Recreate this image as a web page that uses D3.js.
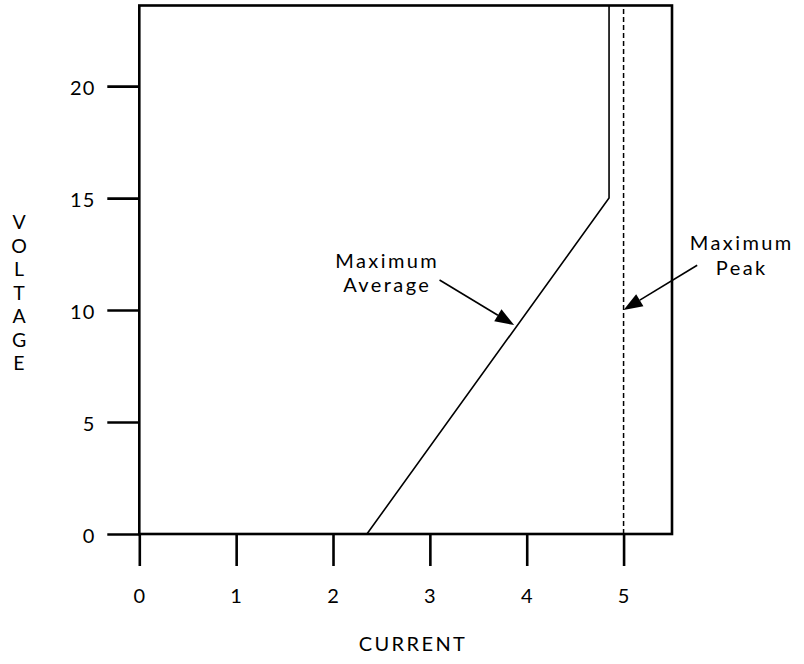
<!DOCTYPE html>
<html><head><meta charset="utf-8">
<script src="https://cdn.jsdelivr.net/npm/d3@7"></script>
<style>body{margin:0;background:#fff}svg{display:block}text{font-family:Lato,sans-serif;fill:#000}</style>
</head><body><svg id="c" width="804" height="664"></svg>
<script>
const xTicks=[0,1,2,3,4,5];
const yTicks=[0,5,10,15,20];
const xDomain=[0,5.5];
const yDomain=[0,23.6];
const avgCurrent=[2.35,4.85,4.85];
const avgVoltage=[0,15,23.6];
const peakCurrent=[5,5];
const peakVoltage=[0,23.6];
const xTitle="CURRENT";
const yTitle="VOLTAGE";
const notes=[
 {lines:["Maximum","Average"],tx:2.56,ty:11.88,from:[3.1,11.34],to:[3.87,9.33]},
 {lines:["Maximum","Peak"],tx:6.22,ty:12.68,from:[5.76,12.0],to:[5.0,10.0]}
];
const svg=d3.select("#c");
const x=d3.scaleLinear().domain(xDomain).range([139.3,672]);
const y=d3.scaleLinear().domain(yDomain).range([534,5.5]);
const fs=20;
svg.append("rect").attr("x",x(0)).attr("y",y(yDomain[1])).attr("width",x(xDomain[1])-x(0)).attr("height",y(0)-y(yDomain[1]))
 .attr("fill","none").attr("stroke","#000").attr("stroke-width",2.6);
const gx=svg.append("g").attr("transform",`translate(0,${y(0)})`)
 .call(d3.axisBottom(x).tickValues(xTicks).tickSize(32).tickPadding(23).tickFormat(d3.format("d")));
const gy=svg.append("g").attr("transform",`translate(${x(0)},0)`)
 .call(d3.axisLeft(y).tickValues(yTicks).tickSize(32).tickPadding(12).tickFormat(d3.format("d")));
[gx,gy].forEach(g=>{g.select(".domain").remove();g.selectAll("line").attr("stroke","#000").attr("stroke-width",2.6);
 g.selectAll("text").attr("font-size",fs).attr("font-family","Lato,sans-serif").attr("fill","#000").attr("letter-spacing",1);});
gy.selectAll("text").attr("dy","0.4em");
const line=d3.line().x(d=>x(d[0])).y(d=>y(d[1]));
svg.append("path").attr("d",line(d3.zip(avgCurrent,avgVoltage))).attr("fill","none").attr("stroke","#000").attr("stroke-width",1.6);
svg.append("path").attr("d",line(d3.zip(peakCurrent,peakVoltage))).attr("fill","none").attr("stroke","#000").attr("stroke-width",1.5).attr("stroke-dasharray","5,3");
svg.append("text").attr("x",413).attr("y",651).attr("text-anchor","middle").attr("font-size",fs).attr("letter-spacing",2.4).text(xTitle);
svg.append("g").selectAll("text").data(yTitle.split("")).join("text")
 .attr("x",19).attr("y",(d,i)=>229+i*23.5).attr("text-anchor","middle").attr("font-size",19.5).text(d=>d);
notes.forEach(n=>{
 n.lines.forEach((t,i)=>svg.append("text").attr("x",x(n.tx)).attr("y",y(n.ty)+i*24.5).attr("text-anchor","middle").attr("font-size",fs).attr("letter-spacing",2.4).text(t));
 const x1=x(n.from[0]),y1=y(n.from[1]),x2=x(n.to[0]),y2=y(n.to[1]);
 const a=Math.atan2(y2-y1,x2-x1),L=19,W=7;
 const bx=x2-L*Math.cos(a),by=y2-L*Math.sin(a);
 svg.append("line").attr("x1",x1).attr("y1",y1).attr("x2",bx).attr("y2",by).attr("stroke","#000").attr("stroke-width",1.6);
 svg.append("path").attr("d",`M${x2},${y2}L${bx+W*Math.sin(a)},${by-W*Math.cos(a)}L${bx-W*Math.sin(a)},${by+W*Math.cos(a)}Z`).attr("fill","#000");
});
</script></body></html>
